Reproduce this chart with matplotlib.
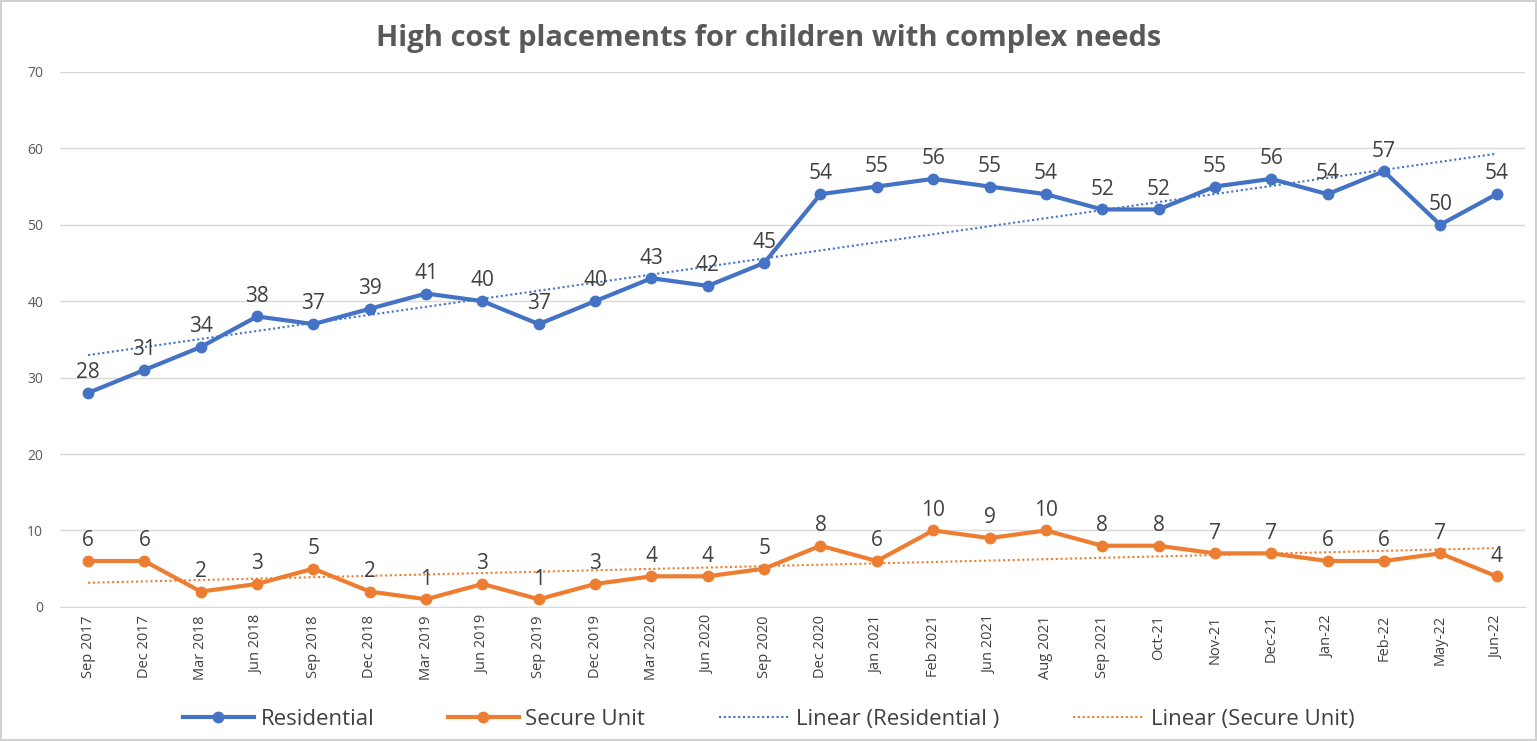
import matplotlib
matplotlib.use("Agg")
import matplotlib.pyplot as plt
import numpy as np

plt.rcParams['font.family'] = ['Open Sans', 'DejaVu Sans']

months = ["Sep 2017", "Dec 2017", "Mar 2018", "Jun 2018", "Sep 2018", "Dec 2018",
          "Mar 2019", "Jun 2019", "Sep 2019", "Dec 2019", "Mar 2020", "Jun 2020",
          "Sep 2020", "Dec 2020", "Jan 2021", "Feb 2021", "Jun 2021", "Aug 2021",
          "Sep 2021", "Oct-21", "Nov-21", "Dec-21", "Jan-22", "Feb-22", "May-22", "Jun-22"]
residential = [28, 31, 34, 38, 37, 39, 41, 40, 37, 40, 43, 42, 45, 54, 55, 56, 55, 54,
               52, 52, 55, 56, 54, 57, 50, 54]
secure_unit = [6, 6, 2, 3, 5, 2, 1, 3, 1, 3, 4, 4, 5, 8, 6, 10, 9, 10, 8, 8, 7, 7, 6, 6, 7, 4]

blue = "#4472C4"
orange = "#ED7D31"

fig = plt.figure(figsize=(15.37, 7.41), dpi=100)
fig.patch.set_edgecolor("#d0d0d0")
fig.patch.set_linewidth(1.5)
ax = fig.add_axes([0.039, 0.181, 0.953, 0.722])

x = np.arange(len(months))
ax.plot(x, residential, color=blue, lw=3, marker="o", ms=7.5, label="Residential", zorder=3)
ax.plot(x, secure_unit, color=orange, lw=3, marker="o", ms=7.5, label="Secure Unit", zorder=3)

# linear trendlines like Excel
for series, col, name in [(residential, blue, "Linear (Residential )"),
                          (secure_unit, orange, "Linear (Secure Unit)")]:
    k, b = np.polyfit(x, series, 1)
    ax.plot(x, k * x + b, color=col, lw=1.5, ls=(0, (1, 1.3)), label=name, zorder=2)

for series in (residential, secure_unit):
    for xi, v in zip(x, series):
        ax.annotate(str(v), (xi, v), xytext=(0, 7), textcoords="offset points",
                    ha="center", va="bottom", fontsize=15, color="#404040")

ax.set_xlim(-0.5, len(months) - 0.5)
ax.set_ylim(0, 70)
ax.set_yticks(range(0, 71, 10))
ax.set_xticks(x)
ax.set_xticklabels(months, rotation=90, fontsize=10.5, color="#404040")
ax.tick_params(axis="y", labelsize=10, labelcolor="#595959", length=0, pad=12)
ax.tick_params(axis="x", length=0, pad=6)
ax.grid(axis="y", color="#d9d9d9", lw=1)
ax.set_axisbelow(True)
for s in ["top", "right", "left"]:
    ax.spines[s].set_visible(False)
ax.spines["bottom"].set_color("#d9d9d9")

fig.suptitle("High cost placements for children with complex needs", y=0.968,
             fontsize=21, fontweight="bold", color="#595959")

fig.legend(loc="lower center", bbox_to_anchor=(0.5, -0.012), ncol=4, frameon=False,
           fontsize=16, handlelength=3.2, handletextpad=0.3, columnspacing=3.3,
           labelcolor="#404040")

fig.savefig("out.png", dpi=100, edgecolor=fig.get_edgecolor())
